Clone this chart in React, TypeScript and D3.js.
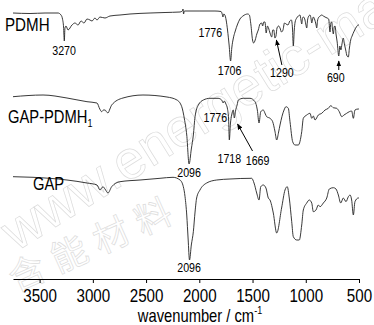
import React, { useEffect, useRef } from "react";
import * as d3 from "d3";

// FTIR spectra: [wavenumber cm-1, transmittance a.u.]
const PDMH: [number, number][] = [
  [3750, 66], [3590, 65.5], [3449, 66], [3327, 66], [3299, 64], [3285, 60], [3275, 52],
  [3268, 38], [3262, 51], [3252, 53], [3233, 49], [3196, 54], [3168, 56], [3139, 54],
  [3111, 58], [3083, 56], [3055, 60], [3027, 59], [3008, 58], [2980, 61], [2961, 59],
  [2933, 62], [2886, 61], [2839, 63], [2745, 64], [2651, 65], [2463, 66], [2322, 66.5],
  [2181, 67], [2160, 68], [2153, 70], [2148, 65], [2140, 68], [1994, 68], [1853, 68],
  [1796, 67.5], [1785, 65], [1778, 62], [1770, 65], [1760, 64], [1748, 59], [1735, 49],
  [1720, 34], [1706, 18], [1695, 31], [1680, 41], [1665, 47], [1640, 55], [1618, 60],
  [1590, 63], [1545, 65], [1530, 64], [1515, 54], [1500, 39], [1490, 36], [1475, 39],
  [1460, 45], [1446, 49], [1430, 55], [1414, 56], [1405, 53], [1395, 57], [1383, 57],
  [1372, 46], [1360, 53], [1350, 51], [1336, 46], [1320, 42], [1310, 49], [1300, 49],
  [1290, 41], [1280, 43], [1270, 51], [1255, 53], [1242, 51], [1228, 47], [1214, 49],
  [1200, 56], [1185, 55], [1167, 54], [1150, 58], [1135, 59], [1125, 51], [1117, 33],
  [1108, 49], [1100, 57], [1085, 61], [1070, 63], [1054, 64], [1045, 59], [1038, 55],
  [1030, 61], [1023, 62], [1010, 60], [1000, 55], [991, 51], [983, 59], [976, 62],
  [960, 64], [950, 60], [944, 56], [937, 59], [929, 62], [918, 60], [905, 55], [897, 51],
  [890, 58], [882, 61], [865, 63], [850, 64], [835, 63], [819, 62], [800, 61], [785, 60],
  [772, 47], [765, 56], [756, 57], [748, 49], [741, 45], [733, 52], [725, 53], [716, 45],
  [705, 37], [690, 23], [680, 33], [670, 29], [660, 35], [648, 41], [637, 35], [625, 29],
  [612, 23], [600, 22], [590, 31], [578, 39], [565, 43], [545, 48], [525, 52], [507, 54],
  [500, 54],
];

const GAP_PDMH: [number, number][] = [
  [3750, 72.3], [3468, 74], [3243, 71], [3055, 67.3], [2961, 66], [2935, 60], [2917, 57.3],
  [2900, 59], [2886, 59], [2870, 57], [2858, 56], [2840, 60], [2823, 64], [2717, 71],
  [2529, 74], [2304, 72], [2210, 69], [2165, 62.3], [2140, 50], [2118, 34], [2096, 5],
  [2075, 20], [2056, 34], [2040, 52.3], [2009, 64], [1962, 69], [1900, 70.7], [1824, 70.7],
  [1790, 69], [1775, 66], [1765, 68], [1750, 65], [1735, 60], [1725, 50], [1718, 29],
  [1708, 45], [1696, 54], [1681, 59], [1671, 51], [1660, 58], [1645, 64], [1633, 69],
  [1587, 70.7], [1524, 70.7], [1477, 67.3], [1455, 59], [1439, 46], [1423, 57.3],
  [1399, 59], [1380, 55], [1367, 52.3], [1336, 50.7], [1311, 47.3], [1290, 38], [1273, 29],
  [1255, 37], [1242, 44], [1204, 59], [1186, 62.3], [1164, 60.7], [1148, 47.3], [1123, 27.3],
  [1101, 24], [1070, 24], [1038, 37.3], [1023, 50.7], [991, 54], [960, 55.7], [944, 50.7],
  [929, 53], [913, 49], [882, 54], [850, 55.7], [819, 59], [788, 60.7], [766, 63.3],
  [741, 61.3], [710, 60.7], [685, 57.3], [662, 52.3], [641, 54], [616, 55.7], [591, 57.3],
  [569, 58], [553, 50.7], [538, 59], [507, 60], [500, 60],
];

const GAP: [number, number][] = [
  [3750, 102.3], [3562, 101.7], [3243, 99], [3055, 96], [2961, 94], [2933, 89], [2905, 92.3],
  [2886, 90], [2858, 86], [2823, 92.3], [2745, 97.3], [2557, 99], [2369, 100.7],
  [2247, 101.7], [2181, 99], [2150, 92.3], [2134, 82.3], [2118, 64], [2105, 40], [2092, 19],
  [2075, 34], [2056, 47.3], [2040, 67], [2025, 81], [1994, 89], [1931, 96], [1837, 99],
  [1712, 100], [1508, 100.7], [1486, 96], [1461, 86], [1439, 79], [1423, 92.3], [1399, 94],
  [1374, 91], [1352, 81], [1336, 79], [1305, 66], [1273, 46], [1227, 71], [1195, 89],
  [1174, 92.3], [1155, 81], [1132, 57.3], [1117, 42.3], [1085, 39], [1061, 39], [1038, 54],
  [1023, 69], [991, 76], [967, 79], [944, 76], [929, 67.3], [904, 69], [882, 74],
  [866, 72.3], [835, 76], [803, 81], [779, 90], [741, 91.3], [716, 90], [694, 84], [672, 76],
  [647, 81], [622, 77.3], [600, 82.3], [584, 84], [569, 79], [553, 64], [538, 77.3],
  [507, 81], [500, 81],
];

const offsets = [200, 110, 0];
const xTicks = [3500, 3000, 2500, 2000, 1500, 1000, 500];

const FONT = '"Liberation Sans", Arial, sans-serif';
const SQ = 0.82; // narrow face look

function T(props: { x: number; y: number; size: number; anchor?: string; children: React.ReactNode }) {
  const { x, y, size, anchor = "start", children } = props;
  return (
    <text
      transform={`translate(${x},${y}) scale(${SQ},1)`}
      textAnchor={anchor}
      fontFamily={FONT}
      fontSize={size}
      fill="#000"
    >
      {children}
    </text>
  );
}

export default function App() {
  const axisRef = useRef<SVGGElement>(null);

  const x = d3.scaleLinear().domain([3750, 500]).range([13, 359]);
  const y = d3.scaleLinear().domain([0, 270]).range([279, 9]);

  const line = (off: number) =>
    d3
      .line<[number, number]>()
      .x((d) => x(d[0]))
      .y((d) => y(d[1] + off))
      .curve(d3.curveMonotoneX);

  useEffect(() => {
    const g = d3.select(axisRef.current);
    g.selectAll("*").remove();
    g.call(
      d3.axisBottom(x).tickValues(xTicks).tickSize(4).tickSizeOuter(0).tickPadding(6).tickFormat(d3.format("d"))
    );
    g.selectAll("path, line").attr("stroke", "#000").attr("stroke-width", 1);
    g.selectAll("text")
      .attr("fill", "#000")
      .attr("transform", `scale(${SQ},1)`)
      .style("font-family", FONT)
      .style("font-size", "18.5px");
  }, []);

  return (
    <svg width={374} height={325} style={{ position: "absolute", left: 0, top: 0, background: "#fff" }}>
      <defs>
        <marker id="ah" viewBox="0 0 10 10" refX="9" refY="5" markerWidth="6" markerHeight="6" orient="auto">
          <path d="M0,1 L10,5 L0,9 z" fill="#000" />
        </marker>
      </defs>
      <rect width={374} height={325} fill="#fff" />
      {/* watermark */}
      <g fill="none" stroke="#dcdcdc" strokeWidth={0.7} fontFamily={FONT}>
        <text x={0} y={0} fontSize={54} transform="translate(16,252) rotate(-32)">
          www.energetic-materials.org.cn
        </text>
        <text x={0} y={0} fontSize={36} letterSpacing={10} fontFamily="'Noto Sans CJK SC', sans-serif"
          transform="translate(16,292) rotate(-24)">
          含能材料
        </text>
      </g>

      {[PDMH, GAP_PDMH, GAP].map((s, i) => (
        <path key={i} d={line(offsets[i])(s) || ""} fill="none" stroke="#222" strokeWidth={0.9} />
      ))}

      <g ref={axisRef} transform="translate(0,279)" />

      <T x={5} y={31} size={18.5}>PDMH</T>
      <T x={8} y={123} size={18}>
        GAP-PDMH<tspan fontSize={11} dy={4}>1</tspan>
      </T>
      <T x={33} y={190} size={18}>GAP</T>

      <T x={x(3270)} y={55} size={13} anchor="middle">3270</T>
      <T x={x(1776) - 1} y={37} size={13} anchor="end">1776</T>
      <T x={x(1706) - 1} y={75} size={13} anchor="middle">1706</T>
      <T x={x(1290) + 7} y={77} size={13} anchor="middle">1290</T>
      <T x={x(690) - 3} y={82} size={13} anchor="middle">690</T>
      <line x1={x(1290) + 7} y1={65} x2={x(1290) + 1.5} y2={40} stroke="#000" strokeWidth={1} markerEnd="url(#ah)" />
      <line x1={x(690)} y1={70} x2={x(690)} y2={61} stroke="#000" strokeWidth={1} markerEnd="url(#ah)" />

      <T x={x(2096)} y={177} size={13} anchor="middle">2096</T>
      <T x={x(1776) + 4} y={122} size={13} anchor="end">1776</T>
      <T x={x(1718)} y={163} size={13} anchor="middle">1718</T>
      <T x={x(1669) + 23} y={165} size={13} anchor="middle">1669</T>
      <line x1={x(1669) + 18} y1={151} x2={x(1669) + 3} y2={124} stroke="#000" strokeWidth={1} markerEnd="url(#ah)" />

      <T x={x(2096)} y={272} size={13} anchor="middle">2096</T>

      <T x={200} y={322} size={18} anchor="middle">
        wavenumber / cm<tspan fontSize={11} dy={-8}>-1</tspan>
      </T>
    </svg>
  );
}
